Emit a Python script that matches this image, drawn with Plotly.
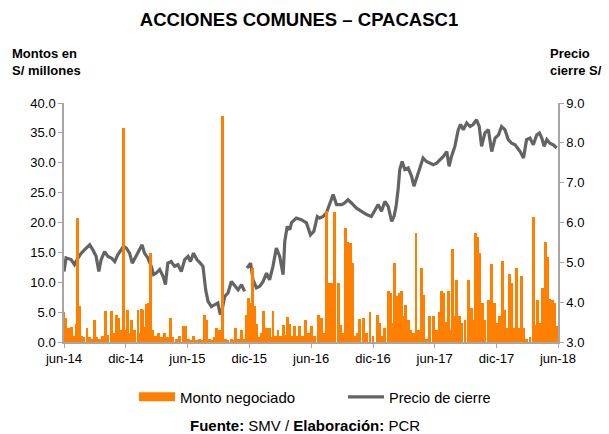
import pandas as pd
import plotly.graph_objects as go

# ---------------- data ----------------
inicio = "2014-06-01"  # days below are counted from this date

dias_precio = [0, 6, 21, 31, 41, 51, 61, 71, 76, 85, 95, 103, 110, 120, 130, 140, 150, 159, 169, 176,
               184, 194, 202, 212, 222, 231, 238, 248, 258, 265, 273, 283, 293, 300, 307, 317, 327, 337,
               347, 357, 367, 374, 383, 393, 403, 411, 419, 426, 436, 446, 455, 462, 468, 475, 485, 495,
               505, 515, 525, 534, 538, 541, 552, 559, 569, 579, 589, 599, 608, 618, 628, 638, 648, 653,
               660, 668, 673, 687, 702, 717, 729, 739, 749, 756, 766, 776, 786, 796, 806, 821, 830, 840,
               850, 865, 880, 895, 909, 919, 929, 939, 949, 959, 969, 976, 982, 988, 993, 1000, 1008,
               1018, 1028, 1035, 1043, 1053, 1062, 1072, 1082, 1092, 1102, 1112, 1122, 1132, 1139, 1146,
               1156, 1166, 1173, 1181, 1191, 1201, 1210, 1220, 1228, 1235, 1245, 1255, 1265, 1275, 1285,
               1294, 1304, 1314, 1324, 1334, 1349, 1359, 1368, 1378, 1388, 1398, 1406, 1413, 1420, 1428,
               1437, 1447, 1457]
precio_cierre = [4.77, 5.11, 5.07, 4.94, 5.10, 5.23, 5.32, 5.40, 5.44, 5.32, 5.15, 4.77, 5.07, 5.27, 5.15,
                 5.11, 5.02, 5.19, 5.32, 5.40, 5.36, 5.23, 4.98, 5.15, 5.32, 5.44, 5.23, 5.11, 4.90, 4.69,
                 4.73, 4.82, 4.65, 4.44, 4.98, 5.02, 4.90, 4.94, 4.77, 5.07, 5.15, 5.02, 5.23, 5.07, 4.98,
                 4.90, 4.31, 4.02, 3.89, 3.94, 3.98, 3.69, 3.82, 4.14, 4.23, 4.52, 4.40, 4.31, 4.44, 4.27,
                 None, 4.86, 4.98, 4.56, 4.36, 4.40, 4.52, 4.73, 4.56, 4.90, 5.36, 5.15, 4.69, 5.53, 5.90,
                 5.82, 6.00, 6.11, 6.07, 5.99, 5.69, 5.78, 6.15, 6.11, 6.15, 6.24, 6.45, 6.70, 6.45, 6.45,
                 6.49, 6.57, 6.49, 6.36, 6.28, 6.20, 6.15, 6.32, 6.45, 6.28, 6.53, 6.40, 6.03, 6.15, 6.40,
                 6.82, 7.33, 7.53, 7.33, 7.37, 7.16, 6.91, 7.12, 7.33, 7.62, 7.53, 7.49, 7.45, 7.49, 7.58,
                 7.66, 7.78, 7.41, 7.66, 7.91, 8.33, 8.46, 8.33, 8.50, 8.41, 8.46, 8.58, 8.41, 7.91, 8.25,
                 8.33, 7.78, 8.12, 8.20, 8.41, 8.33, 8.08, 7.99, 7.95, 7.78, 7.62, 8.08, 8.12, 7.95, 8.20,
                 8.25, 8.12, 7.91, 8.08, 7.99, 7.95, 7.87]

dias_monto = [0, 6, 14, 21, 28, 36, 39, 45, 51, 59, 68, 76, 83, 90, 97, 105, 113, 123, 130, 140, 147, 154,
              161, 169, 176, 182, 189, 194, 199, 209, 219, 224, 228, 233, 239, 245, 251, 256, 263, 271,
              279, 288, 297, 305, 315, 322, 332, 342, 352, 359, 367, 377, 383, 391, 401, 409, 416, 423,
              431, 439, 446, 451, 460, 470, 477, 485, 495, 502, 508, 515, 525, 532, 539, 546, 552, 557,
              564, 569, 577, 583, 589, 594, 599, 608, 613, 618, 625, 633, 640, 648, 654, 660, 668, 676,
              682, 689, 697, 705, 714, 722, 732, 742, 752, 761, 768, 776, 786, 793, 801, 811, 818, 826,
              833, 840, 847, 853, 860, 867, 875, 885, 895, 905, 914, 926, 934, 942, 949, 959, 966, 974,
              978, 985, 991, 998, 1003, 1011, 1018, 1025, 1033, 1041, 1048, 1057, 1064, 1072, 1082, 1092,
              1102, 1109, 1117, 1124, 1130, 1136, 1143, 1149, 1156, 1161, 1169, 1176, 1186, 1196, 1205,
              1212, 1218, 1223, 1230, 1238, 1245, 1255, 1265, 1272, 1280, 1289, 1297, 1304, 1309, 1317,
              1324, 1331, 1337, 1344, 1352, 1358, 1368, 1378, 1388, 1395, 1400, 1408, 1416, 1423, 1430,
              1437, 1445, 1452, 1457]
monto_negociado = [5.1, 4.0, 2.3, 2.5, 1.0, 3.0, 20.7, 6.0, 1.0, 0.8, 2.3, 0.8, 0.5, 3.7, 0.8, 0.5, 1.0,
                   5.2, 1.2, 5.2, 1.5, 4.5, 4.0, 2.0, 35.8, 2.0, 5.4, 1.5, 3.7, 2.0, 5.4, 1.5, 5.6, 5.3,
                   2.5, 6.3, 6.6, 14.9, 2.0, 1.0, 1.5, 0.8, 1.5, 0.8, 4.0, 0.8, 0.5, 1.0, 2.7, 2.7, 0.5,
                   0.3, 1.0, 0.3, 0.5, 0.3, 4.5, 3.7, 0.5, 0.3, 0.8, 2.3, 2.0, 37.9, 0.5, 0.3, 0.5, 0.3,
                   2.3, 0.5, 2.0, 0.5, 4.6, 7.4, 6.6, 12.4, 6.0, 3.0, 0.8, 1.5, 5.2, 0.8, 2.3, 2.3, 0.8,
                   5.2, 1.0, 2.0, 1.0, 2.8, 1.2, 4.2, 3.0, 1.0, 2.7, 1.0, 2.7, 1.0, 3.7, 1.5, 2.7, 1.0,
                   4.5, 4.0, 1.5, 21.9, 9.9, 9.9, 21.7, 9.9, 2.9, 1.5, 19.1, 16.8, 16.5, 13.2, 1.0, 1.5,
                   3.9, 4.0, 1.5, 5.0, 1.0, 4.5, 3.2, 1.0, 2.4, 8.5, 8.2, 3.2, 13.2, 7.7, 8.2, 8.5, 4.3,
                   6.2, 3.7, 2.0, 1.5, 18.2, 2.0, 12.4, 7.9, 0.5, 4.4, 4.4, 2.0, 5.0, 8.5, 8.2, 3.4, 8.5,
                   2.0, 15.6, 4.3, 10.4, 4.3, 3.2, 3.7, 10.3, 5.7, 3.7, 18.2, 17.6, 14.9, 6.5, 3.7, 7.1,
                   13.1, 6.5, 3.2, 4.3, 13.5, 5.3, 2.3, 11.4, 9.9, 2.3, 12.4, 2.3, 11.0, 2.3, 0.5, 0.8,
                   21.0, 2.9, 7.1, 3.2, 9.0, 16.8, 14.3, 7.2, 7.0, 6.5, 2.7]

ticks_fecha = ["2014-06-01", "2014-12-01", "2015-06-01", "2015-12-01", "2016-06-01",
               "2016-12-01", "2017-06-01", "2017-12-01", "2018-06-01"]
ticks_texto = ["jun-14", "dic-14", "jun-15", "dic-15", "jun-16", "dic-16", "jun-17", "dic-17", "jun-18"]

titulo = "ACCIONES COMUNES – CPACASC1"
nombre_monto = "Monto negociado"
nombre_precio = "Precio de cierre"
fuente = "<b>Fuente:</b> SMV / <b>Elaboración:</b> PCR"

# ---------------- figure ----------------
base = pd.Timestamp(inicio)
fechas_precio = base + pd.to_timedelta(dias_precio, unit="D")
fechas_monto = base + pd.to_timedelta(dias_monto, unit="D")

FONT = "Liberation Sans, Arial, sans-serif"
ORANGE = "#FF8000"
GRAY_LINE = "#646464"
AXIS = "#A6A6A6"

fig = go.Figure()

# price line (primary y axis, right side, drawn underneath)
fig.add_trace(go.Scatter(
    x=fechas_precio, y=precio_cierre, name=nombre_precio, mode="lines",
    line=dict(color=GRAY_LINE, width=3.2), connectgaps=False,
    yaxis="y", legend="legend2", hoverinfo="skip"))

# traded amount bars (overlaying axis, left side, drawn on top)
fig.add_trace(go.Bar(
    x=fechas_monto, y=monto_negociado, name=nombre_monto,
    marker=dict(color=ORANGE, line=dict(width=0)),
    width=8.5 * 86400000, yaxis="y2", showlegend=False, hoverinfo="skip"))

# legend swatch for the bars (wide orange block, as in the reference)
fig.add_trace(go.Scatter(
    x=[None], y=[None], name=nombre_monto, mode="lines",
    line=dict(color=ORANGE, width=9), yaxis="y2", legend="legend"))

fig.update_layout(
    width=609, height=434,
    margin=dict(l=64, r=51, t=103, b=92),
    paper_bgcolor="white", plot_bgcolor="white",
    font=dict(family=FONT, size=13, color="#000000"),
    title=dict(text="<b>" + titulo + "</b>", x=0.491, xanchor="center",
               y=1 - 20 / 434, yanchor="middle",
               font=dict(family=FONT, size=18.5, color="#000000")),
    bargap=0,
    xaxis=dict(
        type="date", range=[ticks_fecha[0], ticks_fecha[-1]],
        tickmode="array", tickvals=ticks_fecha, ticktext=ticks_texto,
        showline=True, linecolor=AXIS, linewidth=1.5,
        ticks="outside", ticklen=4, tickcolor=AXIS, showgrid=False, zeroline=False,
        tickfont=dict(size=13)),
    yaxis=dict(
        range=[3, 9], dtick=1, tickformat=".1f", side="right",
        showline=True, linecolor=AXIS, linewidth=1.5,
        ticks="outside", ticklen=4, tickcolor=AXIS, showgrid=False, zeroline=False,
        tickfont=dict(size=13)),
    yaxis2=dict(
        range=[0, 40], dtick=5, tickformat=".1f", side="left", overlaying="y",
        showline=True, linecolor=AXIS, linewidth=1.5,
        ticks="outside", ticklen=4, tickcolor=AXIS, showgrid=False, zeroline=False,
        tickfont=dict(size=13)),
    legend=dict(orientation="h", x=(134 - 64) / 494, xanchor="left",
                y=(342 - 397) / 239, yanchor="middle", itemwidth=36,
                font=dict(size=15), bgcolor="rgba(0,0,0,0)"),
    legend2=dict(orientation="h", x=(343 - 64) / 494, xanchor="left",
                 y=(342 - 397) / 239, yanchor="middle", itemwidth=36,
                 font=dict(size=14.5), bgcolor="rgba(0,0,0,0)"),
    annotations=[
        dict(text="<b>Montos en<br>S/ millones</b>", xref="paper", yref="paper",
             x=(10 - 64) / 494, y=(342 - 62) / 239, xanchor="left", yanchor="middle",
             align="left", showarrow=False, font=dict(size=13)),
        dict(text="<b>Precio<br>cierre S/</b>", xref="paper", yref="paper",
             x=(548 - 64) / 494, y=(342 - 62) / 239, xanchor="left", yanchor="middle",
             align="left", showarrow=False, font=dict(size=13)),
        dict(text=fuente, xref="paper", yref="paper",
             x=(305 - 64) / 494, y=(342 - 425) / 239, xanchor="center", yanchor="middle",
             showarrow=False, font=dict(size=15)),
    ],
)

fig.write_html("out.html", config={"displayModeBar": False},
               post_script="document.body.style.margin='0px';")
